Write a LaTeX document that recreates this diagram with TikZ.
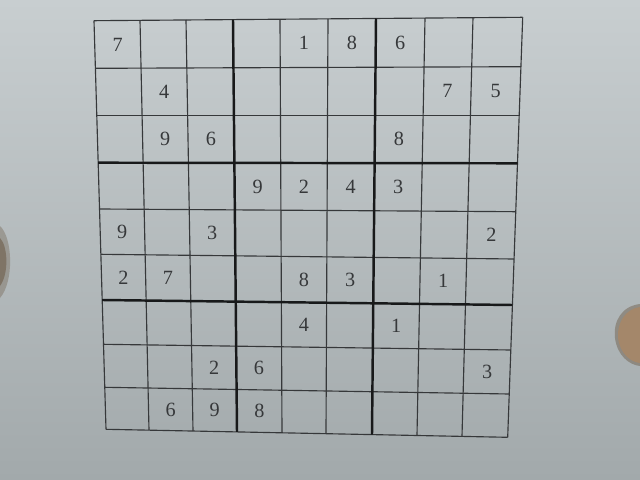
\documentclass[tikz,border=0pt]{standalone}
\usepackage{fontspec}
\setmainfont{Liberation Serif}
\definecolor{papertop}{HTML}{C8CED0}
\definecolor{paperbottom}{HTML}{A2A9AB}
\definecolor{gridgray}{HTML}{36383A}
\definecolor{boxblack}{HTML}{18191A}
\definecolor{digitgray}{HTML}{36383A}
\definecolor{fingertan}{HTML}{A4876A}
\definecolor{fingerdark}{HTML}{6A5843}
\begin{document}
\begin{tikzpicture}[x=0.02cm,y=-0.02cm,
  thinline/.style={draw=gridgray,line width=0.65pt},
  boxline/.style={draw=boxblack,line width=1.4pt},
  digit/.style={text=digitgray,font=\fontsize{11.5}{11.5}\selectfont,inner sep=0pt}]
\useasboundingbox (0,0) rectangle (640,480);
\shade[top color=papertop,bottom color=paperbottom] (0,0) rectangle (640,480);
% fingers holding the sheet
\fill[fingerdark,opacity=0.35] (0,226) .. controls (13,238) and (14,282) .. (0,298) -- cycle;
\fill[fingerdark,opacity=0.55] (0,238) .. controls (8,246) and (9,274) .. (0,286) -- cycle;
\fill[fingerdark,opacity=0.45] (640,304) .. controls (622,306) and (613,321) .. (615,338) .. controls (617,355) and (629,365) .. (640,366) -- cycle;
\fill[fingertan] (640,307) .. controls (625,309) and (617,323) .. (618,338) .. controls (620,353) and (630,362) .. (640,363) -- cycle;
% top and bottom ends of the columns
\coordinate (T0) at (94,20.7);
\coordinate (T1) at (140,20.3);
\coordinate (T2) at (186,20.0);
\coordinate (T3) at (233,19.6);
\coordinate (T4) at (280,19.2);
\coordinate (T5) at (328,18.8);
\coordinate (T6) at (376,18.5);
\coordinate (T7) at (425,18.1);
\coordinate (T8) at (473,17.7);
\coordinate (T9) at (522.7,17.3);
\coordinate (B0) at (106,429.3);
\coordinate (B1) at (149,430.2);
\coordinate (B2) at (193,431.0);
\coordinate (B3) at (237,431.9);
\coordinate (B4) at (282,432.8);
\coordinate (B5) at (326,433.7);
\coordinate (B6) at (372,434.6);
\coordinate (B7) at (417,435.5);
\coordinate (B8) at (462,436.4);
\coordinate (B9) at (507.7,437.3);
% left and right ends of the rows
\coordinate (L0) at (94,20.7);
\coordinate (L1) at (95.4,68.3);
\coordinate (L2) at (96.8,115.3);
\coordinate (L3) at (98.2,162.7);
\coordinate (L4) at (99.5,209);
\coordinate (L5) at (100.9,254.3);
\coordinate (L6) at (102.2,300);
\coordinate (L7) at (103.5,344.3);
\coordinate (L8) at (104.8,387.3);
\coordinate (L9) at (106,429.3);
\coordinate (R0) at (522.7,17.3);
\coordinate (R1) at (520.9,66.7);
\coordinate (R2) at (519.2,115.3);
\coordinate (R3) at (517.5,163.3);
\coordinate (R4) at (515.8,211.7);
\coordinate (R5) at (514.1,259);
\coordinate (R6) at (512.4,305);
\coordinate (R7) at (510.8,350);
\coordinate (R8) at (509.2,394);
\coordinate (R9) at (507.7,437.3);
\draw[thinline] (T0) -- (B0);
\draw[thinline] (T1) -- (B1);
\draw[thinline] (T2) -- (B2);
\draw[thinline] (T4) -- (B4);
\draw[thinline] (T5) -- (B5);
\draw[thinline] (T7) -- (B7);
\draw[thinline] (T8) -- (B8);
\draw[thinline] (T9) -- (B9);
\draw[thinline] (L0) -- (R0);
\draw[thinline] (L1) -- (R1);
\draw[thinline] (L2) -- (R2);
\draw[thinline] (L4) -- (R4);
\draw[thinline] (L5) -- (R5);
\draw[thinline] (L7) -- (R7);
\draw[thinline] (L8) -- (R8);
\draw[thinline] (L9) -- (R9);
\draw[boxline] (T3) -- (B3);
\draw[boxline] (T6) -- (B6);
\draw[boxline] (L3) -- (R3);
\draw[boxline] (L6) -- (R6);
% the given digits, row by row
\node[digit] (n11) at (117.6,44.4) {7};
\node[digit] (n15) at (304,43.3) {1};
\node[digit] (n16) at (351.8,43.0) {8};
\node[digit] (n17) at (400.2,42.7) {6};
\node[digit] (n22) at (164.3,91.7) {4};
\node[digit] (n28) at (447.4,91.1) {7};
\node[digit] (n29) at (495.7,91.0) {5};
\node[digit] (n32) at (165.2,139.1) {9};
\node[digit] (n33) at (211,139.1) {6};
\node[digit] (n37) at (398.8,139.2) {8};
\node[digit] (n44) at (257.7,186.5) {9};
\node[digit] (n45) at (304,186.7) {2};
\node[digit] (n46) at (350.8,186.9) {4};
\node[digit] (n47) at (398.2,187.1) {3};
\node[digit] (n51) at (122.3,231.9) {9};
\node[digit] (n53) at (212.3,232.7) {3};
\node[digit] (n59) at (491.4,235.2) {2};
\node[digit] (n61) at (123.4,277.5) {2};
\node[digit] (n62) at (167.9,278.0) {7};
\node[digit] (n65) at (304,279.6) {8};
\node[digit] (n66) at (350.2,280.1) {3};
\node[digit] (n68) at (443.2,281.2) {1};
\node[digit] (n75) at (304,324.9) {4};
\node[digit] (n77) at (396.2,326.0) {1};
\node[digit] (n83) at (214.1,367.5) {2};
\node[digit] (n84) at (259,368.2) {6};
\node[digit] (n89) at (487.1,371.7) {3};
\node[digit] (n92) at (170.6,409.5) {6};
\node[digit] (n93) at (214.7,410.4) {9};
\node[digit] (n94) at (259.3,411.2) {8};
\end{tikzpicture}
\end{document}
